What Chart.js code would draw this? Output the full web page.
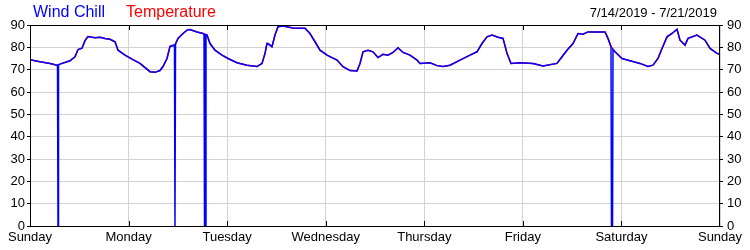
<!DOCTYPE html>
<html>
<head>
<meta charset="utf-8">
<script src="https://cdn.jsdelivr.net/npm/chart.js@4"></script>
<style>
  body { margin: 0; background: #fff; }
  #wrap { position: relative; width: 750px; height: 250px; }
  .lbl { position: absolute; font-family: "Liberation Sans", Arial, sans-serif; white-space: nowrap; }
  #wc { left: 33px; top: 4px; font-size: 16px; line-height: 16px; color: #0000ff; }
  #tp { left: 126px; top: 4px; font-size: 16px; line-height: 16px; color: #ff0000; }
  #range { right: 33px; top: 6px; font-size: 13px; line-height: 13px; color: #000; }
</style>
</head>
<body>
<div id="wrap">
  <canvas id="weekChart" width="750" height="250"></canvas>
  <div class="lbl" id="wc">Wind Chill</div>
  <div class="lbl" id="tp">Temperature</div>
  <div class="lbl" id="range">7/14/2019 - 7/21/2019</div>
</div>
<script>
// ------------------
// data (hours since Sunday 00:00)
// ------------------
const dayNames = ["Sunday", "Monday", "Tuesday", "Wednesday", "Thursday", "Friday", "Saturday", "Sunday"];
const yTicks = [0, 10, 20, 30, 40, 50, 60, 70, 80, 90];

const hours = [
  0, 2.43, 4.87, 6.57, 6.7, 6.82, 6.94, 7.3, 9.74, 10.96, 11.69, 12.66, 13.39, 14.12, 15.83, 17.04,
  18.26, 19.48, 20.7, 21.43, 23.13, 24.83, 26.78, 29.22, 30.43, 31.65, 32.38, 33.36, 34.09,
  35.18, 35.3, 35.43, 36.03, 37.25, 38.23, 38.96, 40.66, 42.12, 42.37, 42.49, 42.73, 42.85,
  43.1, 43.83, 45.04, 46.75, 48.21, 50.4, 52.83, 55.27, 56.49, 57.22, 57.7, 57.95, 58.92,
  59.65, 60.38, 61.6, 64.03, 65.74, 66.96, 68.17, 69.39, 70.61, 72.31, 74.75, 76.21, 77.91,
  79.62, 80.35, 81.08, 82.3, 83.51, 84.73, 85.95, 87.17, 88.38, 89.6, 90.82, 92.52, 94.23,
  94.96, 97.39, 99.1, 100.56, 102.26, 104.7, 107.13, 108.83, 110.05, 111.27, 112.49, 113.95,
  115.17, 116.14, 117.11, 119.3, 122.47, 124.9, 128.31, 129.53, 130.75, 132.21, 133.43,
  134.64, 135.86, 138.05, 140.0, 140.73, 141.46, 141.58, 141.83, 141.95, 142.44, 144.14,
  146.09, 148.52, 150.47, 151.69, 152.9, 153.88, 155.1, 156.31, 157.53, 158.26, 159.48,
  160.21, 162.4, 164.35, 165.57, 167.27, 168
];

const windChill = [
  74.5, 73.5, 72.8, 72, 72, 0, 72.2, 72.5, 74, 75.8, 79, 79.6, 83, 84.8, 84.3, 84.5,
  84, 83.6, 82.5, 78.7, 76.5, 74.7, 72.8, 69.1, 68.8, 69.6, 71.4, 75, 80.4,
  81, 0, 81.5, 84, 86.2, 87.7, 88, 86.9, 86.2, 86, 0, 0, 85.7,
  85.5, 81.7, 78.7, 76.5, 75, 73.1, 72, 71.4, 72.8, 77.3, 81.7, 81.7, 80.3,
  85.5, 89.2, 89.5, 88.7, 88.5, 88.5, 86.2, 82.5, 78.7, 76.5, 74.3, 71.3, 69.6,
  69.4, 72.8, 78, 78.7, 78, 75.4, 76.9, 76.5, 77.7, 79.8, 77.7, 76.5, 74.3,
  72.8, 73.1, 71.8, 71.4, 72, 74.3, 76.5, 78, 81.7, 84.7, 85.5, 84.5,
  84, 77.3, 72.8, 73.1, 72.8, 71.6, 72.8, 75.8, 78.7, 81.7, 86.2,
  85.9, 86.9, 86.9, 86.9, 84, 80.3, 0, 0, 79, 78, 75,
  74, 72.8, 71.4, 72, 75, 79.5, 84.7, 86.2, 88.1, 83.2, 81,
  84, 85.5, 83.2, 79.5, 77.3, 76.9
];

const temperature = [
  74.5, 73.5, 72.8, 72, 72, 72.1, 72.2, 72.5, 74, 75.8, 79, 79.6, 83, 84.8, 84.3, 84.5,
  84, 83.6, 82.5, 78.7, 76.5, 74.7, 72.8, 69.1, 68.8, 69.6, 71.4, 75, 80.4,
  81, 81.2, 81.5, 84, 86.2, 87.7, 88, 86.9, 86.2, 86, 85.9, 85.8, 85.7,
  85.5, 81.7, 78.7, 76.5, 75, 73.1, 72, 71.4, 72.8, 77.3, 81.7, 81.7, 80.3,
  85.5, 89.2, 89.5, 88.7, 88.5, 88.5, 86.2, 82.5, 78.7, 76.5, 74.3, 71.3, 69.6,
  69.4, 72.8, 78, 78.7, 78, 75.4, 76.9, 76.5, 77.7, 79.8, 77.7, 76.5, 74.3,
  72.8, 73.1, 71.8, 71.4, 72, 74.3, 76.5, 78, 81.7, 84.7, 85.5, 84.5,
  84, 77.3, 72.8, 73.1, 72.8, 71.6, 72.8, 75.8, 78.7, 81.7, 86.2,
  85.9, 86.9, 86.9, 86.9, 84, 80.3, 80, 79.5, 79, 78, 75,
  74, 72.8, 71.4, 72, 75, 79.5, 84.7, 86.2, 88.1, 83.2, 81,
  84, 85.5, 83.2, 79.5, 77.3, 76.9
];

// ------------------
// chart setup
// ------------------
const toPoints = (vals) => hours.map((h, i) => ({ x: h, y: vals[i] }));

// black frame + short inside ticks on top and bottom
const framePlugin = {
  id: "frame",
  afterDraw(chart) {
    const { ctx, chartArea: a, scales } = chart;
    ctx.save();
    ctx.strokeStyle = "#000";
    ctx.lineWidth = 1;
    ctx.strokeRect(a.left + 0.5, a.top + 0.5, a.right - a.left - 1, a.bottom - a.top);
    ctx.beginPath();
    for (let i = 1; i < dayNames.length - 1; i++) {
      const x = Math.round(scales.x.getPixelForValue(i * 24)) + 0.5;
      ctx.moveTo(x, a.top);
      ctx.lineTo(x, a.top + 5);
      ctx.moveTo(x, a.bottom);
      ctx.lineTo(x, a.bottom - 5);
    }
    ctx.stroke();
    ctx.restore();
  }
};

const tickFont = { family: "'Liberation Sans', Arial, sans-serif", size: 13 };

new Chart(document.getElementById("weekChart"), {
  type: "line",
  data: {
    datasets: [
      {
        label: "Wind Chill",
        data: toPoints(windChill),
        borderColor: "#0000ff",
        borderWidth: 1.5,
        pointRadius: 0,
        tension: 0,
        yAxisID: "y"
      },
      {
        label: "Temperature",
        data: toPoints(temperature),
        borderColor: "#ff0000",
        borderWidth: 1.5,
        pointRadius: 0,
        tension: 0,
        yAxisID: "y"
      }
    ]
  },
  options: {
    responsive: false,
    animation: false,
    layout: { padding: { top: 25, left: 0, right: 0, bottom: 0 } },
    plugins: { legend: { display: false }, tooltip: { enabled: false } },
    scales: {
      x: {
        type: "linear",
        min: 0,
        max: 168,
        afterBuildTicks: (s) => { s.ticks = dayNames.map((d, i) => ({ value: i * 24 })); },
        ticks: {
          callback: (v) => dayNames[Math.round(v / 24)],
          color: "#000",
          font: tickFont,
          padding: 4,
          maxRotation: 0,
          autoSkip: false
        },
        grid: { color: "#d3d3d3", drawTicks: false },
        border: { display: false },
        afterFit: (s) => { s.height = 24; }
      },
      y: {
        position: "left",
        min: 0,
        max: 90,
        afterBuildTicks: (s) => { s.ticks = yTicks.map((v) => ({ value: v })); },
        ticks: { color: "#000", font: tickFont, padding: 2 },
        grid: { color: "#d3d3d3", tickColor: "#000", tickLength: 3 },
        border: { display: false },
        afterFit: (s) => { s.width = 30; }
      },
      y2: {
        position: "right",
        min: 0,
        max: 90,
        afterBuildTicks: (s) => { s.ticks = yTicks.map((v) => ({ value: v })); },
        ticks: { color: "#000", font: tickFont, padding: 4 },
        grid: { drawOnChartArea: false, tickColor: "#000", tickLength: 3 },
        border: { display: false },
        afterFit: (s) => { s.width = 30; }
      }
    }
  },
  plugins: [framePlugin]
});
</script>
</body>
</html>
